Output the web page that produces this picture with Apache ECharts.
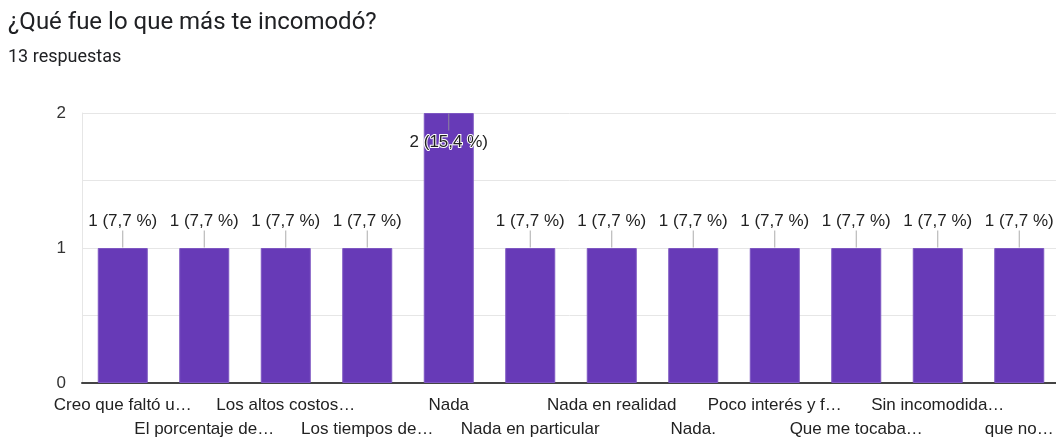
<!DOCTYPE html>
<html>
<head>
<meta charset="utf-8">
<script src="https://cdn.jsdelivr.net/npm/echarts@6/dist/echarts.min.js"></script>
<style>
  html, body { margin: 0; padding: 0; background: #fff; }
  #chart { width: 1056px; height: 438px; }
</style>
</head>
<body>
<div id="chart"></div>
<script>
// datos
var categorias = [
    'Creo que faltó u…', 'El porcentaje de…', 'Los altos costos…', 'Los tiempos de…',
    'Nada', 'Nada en particular', 'Nada en realidad', 'Nada.',
    'Poco interés y f…', 'Que me tocaba…', 'Sin incomodida…', 'que no…'
];
var respuestas = [1, 1, 1, 1, 2, 1, 1, 1, 1, 1, 1, 1];
var totalRespuestas = 13;
var ticksY = [0, 1, 2];

var maxValor = Math.max.apply(null, respuestas);

function etiqueta(v) {
    var pct = (v / totalRespuestas * 100).toFixed(1).replace('.', ',');
    return v + ' (' + pct + ' %)';
}

var datosBarras = respuestas.map(function (v) {
    var dentro = v === maxValor;
    return {
        value: v,
        label: {
            position: dentro ? 'insideTop' : 'top',
            distance: dentro ? 21 : 18,
            textBorderColor: dentro ? '#fff' : 'transparent',
            textBorderWidth: dentro ? 2 : 0
        }
    };
});

// pequeñas líneas guía entre la barra y la etiqueta
var datosGuias = respuestas.map(function (v) {
    return { value: v, symbolOffset: v === maxValor ? [0, 9] : [0, -9] };
});

var chart = echarts.init(document.getElementById('chart'));
var option = {
    animation: false,
    textStyle: { fontFamily: 'Liberation Sans, Arial, sans-serif' },
    title: {
        text: '¿Qué fue lo que más te incomodó?',
        subtext: '13 respuestas',
        left: 3,
        top: 6,
        itemGap: 13,
        textStyle: { fontFamily: 'Roboto', fontSize: 24, fontWeight: 'normal', color: '#202124' },
        subtextStyle: { fontFamily: 'Roboto', fontSize: 18, color: '#202124' }
    },
    grid: { left: 82, top: 113, width: 978, height: 270, outerBoundsMode: 'none' },
    xAxis: {
        type: 'category',
        data: categorias,
        axisTick: { show: false },
        axisLine: { lineStyle: { color: '#444', width: 2 } },
        axisLabel: {
            interval: 0,
            margin: 10,
            fontSize: 17,
            lineHeight: 24,
            color: '#222',
            formatter: function (v, i) { return i % 2 ? '\n' + v : v; }
        }
    },
    yAxis: {
        type: 'value',
        min: 0,
        max: 2,
        interval: 0.5,
        axisLine: { show: true, lineStyle: { color: '#e6e6e6' } },
        axisTick: { show: false },
        splitLine: { lineStyle: { color: '#e6e6e6' } },
        axisLabel: {
            margin: 16,
            fontSize: 17,
            color: '#333',
            formatter: function (v) { return ticksY.indexOf(v) >= 0 ? String(v) : ''; }
        }
    },
    series: [
        {
            type: 'bar',
            data: datosBarras,
            barWidth: 50,
            itemStyle: { color: '#673ab7', borderColor: '#7e57c2', borderWidth: 1 },
            label: {
                show: true,
                fontSize: 17,
                color: '#222',
                formatter: function (p) { return etiqueta(p.value); }
            }
        },
        {
            type: 'scatter',
            data: datosGuias,
            symbol: 'rect',
            symbolSize: [1, 17],
            itemStyle: { color: '#999' },
            silent: true,
            z: 3
        }
    ]
};
chart.setOption(option);
</script>
</body>
</html>
